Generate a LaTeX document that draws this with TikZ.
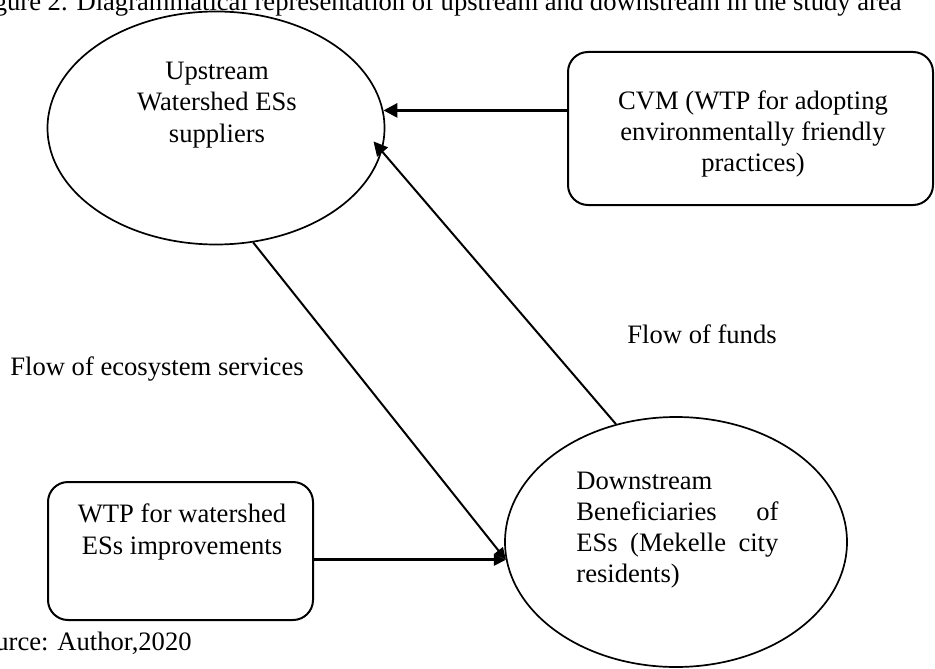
\documentclass[tikz,border=0pt]{standalone}
\usepackage{fontspec}
\setmainfont{Liberation Serif}
\usetikzlibrary{arrows.meta}
\usetikzlibrary{shapes.geometric}
\newcommand{\widthds}{101pt}
\tikzset{
    common/.style={draw, line width=0.85pt, inner sep=0pt},
    region/.style={common, ellipse},
    valuation/.style={common, rectangle, rounded corners=10pt, line width=1pt},
    txt/.style={inner sep=0pt, font=\fontsize{13.3}{15.6}\selectfont},
    flow/.style={-{Triangle[length=7pt, width=7pt]}, line width=1pt},
    flowsmall/.style={-{Triangle[length=6pt, width=5.5pt]}, line width=1pt},
    heavy/.style={line width=1.5pt}
}

\begin{document}
\begin{tikzpicture}[x=0.5pt, y=-0.5pt]
    \useasboundingbox (0,0) rectangle (935,668);
    \clip (0,0) rectangle (935,668);

    \node[region, minimum width=168.5pt, minimum height=116.5pt] (upstream) at (216,128) {};
    \node[region, minimum width=171pt, minimum height=125pt] (downstream) at (676,542) {};
    \node[valuation, minimum width=182.5pt, minimum height=76.5pt] (cvm) at (750.5,128.5) {};
    \node[valuation, minimum width=132.5pt, minimum height=69pt] (wtp) at (180.5,551) {};

    \node[txt, align=center] (upstream-text) at (217,105) {Upstream\\Watershed ESs\\suppliers};
    \node[txt, align=center] (cvm-text) at (753,134) {CVM (WTP for adopting\\environmentally friendly\\practices)};
    \node[txt, align=center] (wtp-text) at (182,532) {WTP for watershed\\ESs improvements};
    \node[txt, align=left, anchor=west] (downstream-text) at (576,530)
        {Downstream\\\makebox[\widthds][s]{Beneficiaries of}\\\makebox[\widthds][s]{ESs (Mekelle city}\\residents)};

    \node[txt, anchor=base west] (services-label) at (10,375) {Flow of ecosystem services};
    \node[txt, anchor=base west] (funds-label) at (627,343) {Flow of funds};
    \node[txt, anchor=base east] (title) at (902,11)
        {Figure 2. Diagrammatical representation of upstream and downstream in the study area};
    \node[txt, anchor=base east] (source) at (192,650) {Source: Author,2020};

    \draw[flow, heavy] (cvm.west |- upstream.6) -- (upstream.6);
    \draw[flow, shorten >=-6.5pt] (downstream.117) -- (upstream.-8);
    \draw[flowsmall] (upstream.-72) -- (downstream.186);
    \draw[flowsmall, heavy] (wtp.east |- downstream.186) -- (downstream.186);
\end{tikzpicture}
\end{document}
